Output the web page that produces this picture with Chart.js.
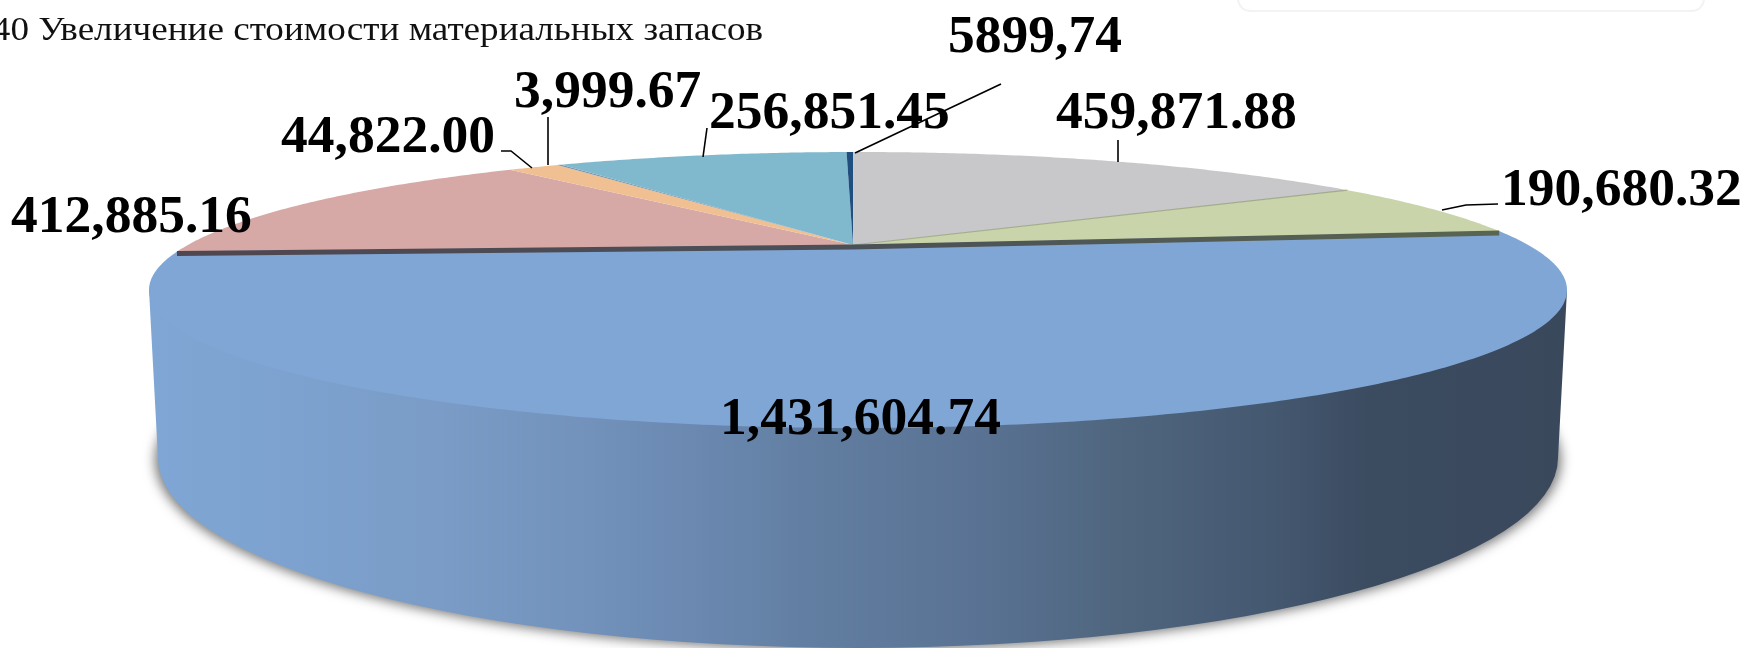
<!DOCTYPE html>
<html>
<head>
<meta charset="utf-8">
<style>html,body{margin:0;padding:0;background:#fff;overflow:hidden}canvas{display:block}</style>
<script src="https://cdn.jsdelivr.net/npm/chart.js@4"></script>
</head>
<body>
<canvas id="c" width="1746" height="648"></canvas>
<script>
const titleText = "40 Увеличение стоимости материальных запасов";
const valueLabels = ["1,431,604.74","412,885.16","44,822.00","3,999.67","256,851.45","5899,74","459,871.88","190,680.32"];
const seriesValues = [1431604.74,412885.16,44822.00,3999.67,256851.45,5899.74,459871.88,190680.32];
const sliceColors = ["#80a6d5","#d6a9a7","#f0bf92","#7d97a8","#80b8cd","#1f4e7f","#c8c8ca","#c9d4aa"];
const startRotation = 83.4;

// Perspective view of the pie top (unit circle -> ellipse with off-centre apex)
const TOP = {cx:858, cy:290, a:709, b:138};
const APEX = {u:-0.007, v:-0.326};
const BOTTOM = {cx:858, cy:458, a:700, b:190};
function project(X, Y){
  const {u:a1, v:a2} = APEX, n = a1*a1+a2*a2, s = Math.sqrt(1-n), d = a1*X+a2*Y;
  const parX = a1*d/n, parY = a2*d/n, den = 1+d;
  const px = (a1+parX+s*(X-parX))/den, py = (a2+parY+s*(Y-parY))/den;
  return [TOP.cx+TOP.a*px, TOP.cy+TOP.b*py];
}
function slicePath(ctx, start, end){
  ctx.beginPath();
  const c = project(0,0);
  ctx.moveTo(c[0],c[1]);
  const n = Math.max(2, Math.ceil((end-start)/0.01));
  for(let i=0;i<=n;i++){
    const t = start+(end-start)*i/n, p = project(Math.cos(t),Math.sin(t));
    ctx.lineTo(p[0],p[1]);
  }
  ctx.closePath();
}
const LABEL_POS = [[720,434],[11,232],[281,152],[514,107],[709,128],[948,52],[1056,128],[1501,205]];
const LEADERS = [
  null, null,
  [[501,151],[511,151],[532,168]],
  [[548,117],[548,165]],
  [[707,128],[703,157]],
  [[855,153],[1001,84]],
  [[1118,140],[1118,162]],
  [[1498,204],[1466,205],[1442,210]]
];

const pie3d = {
  id:'pie3d',
  beforeDatasetsDraw(chart){
    const ctx = chart.ctx;
    ctx.save();
    // faint box, top right
    ctx.strokeStyle = "#f3f3f3"; ctx.lineWidth = 2;
    ctx.beginPath();
    ctx.moveTo(1238,0); ctx.quadraticCurveTo(1240,11,1252,11);
    ctx.lineTo(1690,11); ctx.quadraticCurveTo(1702,11,1704,0);
    ctx.stroke();
    // soft shadow at the foot of the wall: only the blurred shadow of an off-canvas ellipse shows
    ctx.save();
    ctx.shadowColor = "rgba(30,30,30,0.6)";
    ctx.shadowBlur = 12;
    ctx.shadowOffsetX = 3000;
    ctx.beginPath();
    ctx.ellipse(BOTTOM.cx-3000,BOTTOM.cy+2,BOTTOM.a+3,BOTTOM.b,0,0,Math.PI*2);
    ctx.fillStyle = "#000"; ctx.fill();
    ctx.restore();
    // wall path
    const wall = () => {
      ctx.beginPath();
      ctx.moveTo(TOP.cx-TOP.a,TOP.cy);
      ctx.lineTo(BOTTOM.cx-BOTTOM.a,BOTTOM.cy);
      ctx.ellipse(BOTTOM.cx,BOTTOM.cy,BOTTOM.a,BOTTOM.b,0,Math.PI,0,true);
      ctx.lineTo(TOP.cx+TOP.a,TOP.cy);
      ctx.closePath();
    };
    const g = ctx.createLinearGradient(149,0,1571,0);
    [[0,"#7fa6d4"],[0.1,"#7da2cf"],[0.2,"#7a9cc6"],[0.31,"#7292bb"],[0.38,"#6b89b1"],[0.48,"#607c9f"],
     [0.58,"#5a7394"],[0.68,"#50667f"],[0.79,"#445870"],[0.86,"#3b4b60"],[1,"#3a485c"]]
     .forEach(s=>g.addColorStop(s[0],s[1]));
    wall(); ctx.fillStyle = g; ctx.fill();
    ctx.restore();
  },
  beforeDatasetDraw(chart){
    const ctx = chart.ctx, meta = chart.getDatasetMeta(0);
    ctx.save();
    // back slices first, the front one last
    const order = meta.data.map((_,i)=>i).slice(1).concat([0]);
    let edge = null;
    order.forEach(i=>{
      const el = meta.data[i];
      slicePath(ctx, el.startAngle, el.endAngle);
      ctx.fillStyle = el.options.backgroundColor;
      ctx.fill();
      if(i===0) edge = el;
    });
    // seam between grey and green
    const gs = meta.data[7], c = project(0,0);
    const pg = project(Math.cos(gs.startAngle),Math.sin(gs.startAngle));
    ctx.strokeStyle = "rgba(150,160,125,0.8)"; ctx.lineWidth = 1.2;
    ctx.beginPath(); ctx.moveTo(c[0],c[1]); ctx.lineTo(pg[0],pg[1]); ctx.stroke();
    // dark cut edge above the front slice
    const p0 = project(Math.cos(edge.startAngle),Math.sin(edge.startAngle));
    const p1 = project(Math.cos(edge.endAngle),Math.sin(edge.endAngle));
    const lg = ctx.createLinearGradient(p1[0],0,p0[0],0);
    lg.addColorStop(0,"#4f4650"); lg.addColorStop(0.5,"#4a5058"); lg.addColorStop(1,"#5a6550");
    ctx.strokeStyle = lg; ctx.lineWidth = 5; ctx.lineJoin = "round";
    ctx.beginPath();
    ctx.moveTo(p1[0],p1[1]+2); ctx.lineTo(c[0],c[1]+2); ctx.lineTo(p0[0],p0[1]+2);
    ctx.stroke();
    ctx.restore();
    return false;
  },
  afterDatasetsDraw(chart){
    const ctx = chart.ctx;
    ctx.save();
    ctx.fillStyle = "#111"; ctx.textBaseline = "alphabetic";
    ctx.save();
    ctx.translate(763,40); ctx.scale(1.125,1);
    ctx.font = '33px "Liberation Serif"'; ctx.textAlign = "right";
    ctx.fillText(titleText, 0, 0);
    ctx.restore();
    ctx.strokeStyle = "#000"; ctx.lineWidth = 1.6;
    LEADERS.forEach(l=>{
      if(!l) return;
      ctx.beginPath();
      l.forEach((p,i)=> i? ctx.lineTo(p[0],p[1]) : ctx.moveTo(p[0],p[1]));
      ctx.stroke();
    });
    ctx.fillStyle = "#000"; ctx.textAlign = "left";
    ctx.font = 'bold 53.5px "Liberation Serif"';
    valueLabels.forEach((t,i)=>ctx.fillText(t, LABEL_POS[i][0], LABEL_POS[i][1]));
    ctx.restore();
  }
};

new Chart(document.getElementById('c'), {
  type:'pie',
  data:{labels:valueLabels, datasets:[{data:seriesValues, backgroundColor:sliceColors, borderWidth:0}]},
  options:{
    responsive:false, animation:false, rotation:startRotation,
    plugins:{legend:{display:false}, tooltip:{enabled:false}, title:{display:false}},
    layout:{padding:0}
  },
  plugins:[pie3d]
});
</script>
</body>
</html>
